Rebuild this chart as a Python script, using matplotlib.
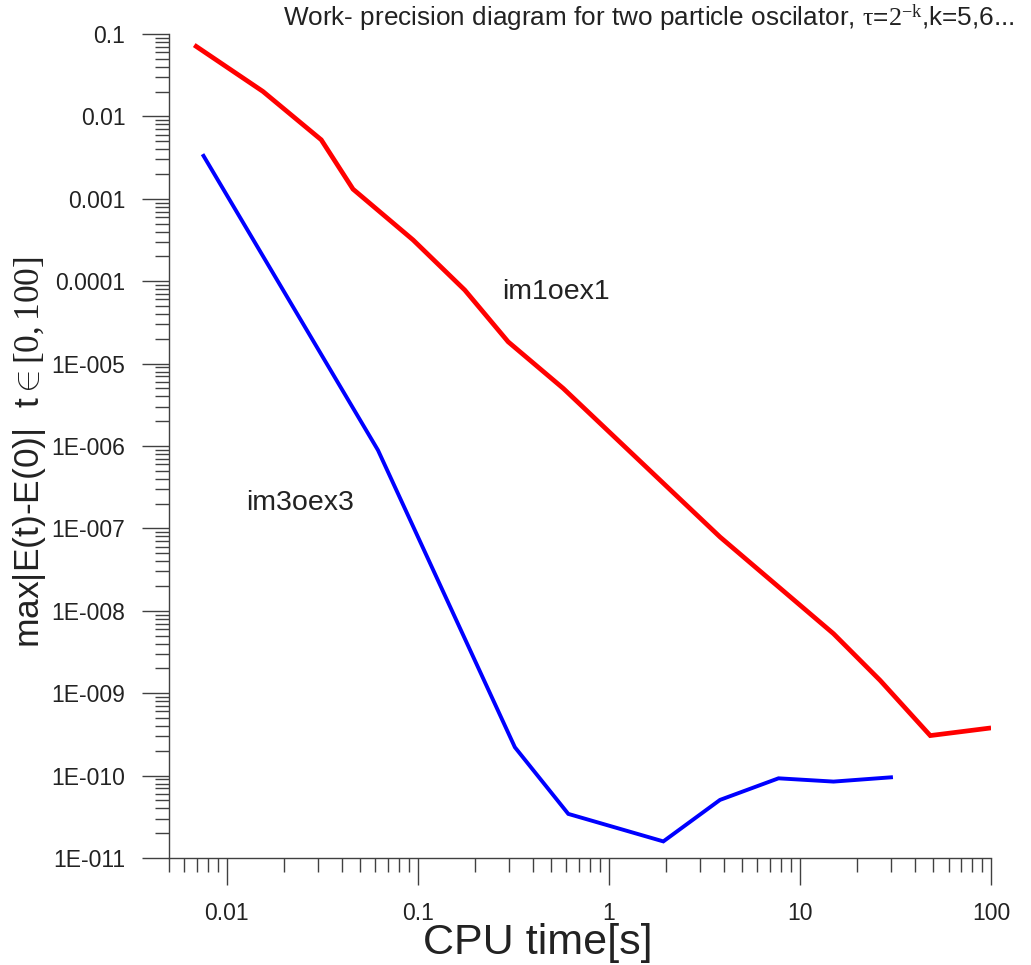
import matplotlib
matplotlib.use('Agg')
import matplotlib.pyplot as plt
from matplotlib.ticker import FixedLocator, NullFormatter, LogLocator

# 数据：CPU 时间与能量误差
im1_time = [0.00694, 0.0155, 0.0313, 0.0459, 0.0946, 0.1765, 0.2975, 0.578,
            3.82, 15.0, 26.3, 48.1, 97.3]
im1_err = [0.0707, 0.0201, 0.0052, 0.00131, 3.17e-4, 7.8e-5, 1.84e-5, 5.0e-6,
           7.87e-8, 5.27e-9, 1.43e-9, 3.06e-10, 3.76e-10]

im3_time = [0.00758, 0.062, 0.3226, 0.614, 1.93, 3.82, 7.73, 15.0, 29.97]
im3_err = [3.32e-3, 8.9e-7, 2.21e-10, 3.43e-11, 1.59e-11, 5.07e-11, 9.27e-11,
           8.46e-11, 9.53e-11]

x_ticks = [0.01, 0.1, 1, 10, 100]
x_labels = ['0.01', '0.1', '1', '10', '100']
y_ticks = [1e-1, 1e-2, 1e-3, 1e-4, 1e-5, 1e-6, 1e-7, 1e-8, 1e-9, 1e-10, 1e-11]
y_labels = ['0.1', '0.01', '0.001', '0.0001', '1E-005', '1E-006', '1E-007',
            '1E-008', '1E-009', '1E-010', '1E-011']

plt.rcParams['font.family'] = ['Liberation Sans', 'DejaVu Sans']
plt.rcParams['mathtext.fontset'] = 'custom'
plt.rcParams['mathtext.rm'] = 'Liberation Serif'
plt.rcParams['mathtext.it'] = 'Liberation Serif:italic'

axis_color = '#404040'
text_color = '#222222'

fig = plt.figure(figsize=(10.31, 9.65), dpi=100)
ax = fig.add_axes([169 / 1031, 1 - 858 / 965, 822 / 1031, 824 / 965])

ax.plot(im1_time, im1_err, color='#ff0000', lw=3.4, solid_joinstyle='miter')
ax.plot(im3_time, im3_err, color='#0000ff', lw=2.8, solid_joinstyle='miter')

ax.set_xscale('log')
ax.set_yscale('log')
ax.set_xlim(0.005, 100)
ax.set_ylim(1e-11, 0.1)

ax.spines['top'].set_visible(False)
ax.spines['right'].set_visible(False)
for s in ('left', 'bottom'):
    ax.spines[s].set_color(axis_color)
    ax.spines[s].set_linewidth(1.0)

ax.xaxis.set_major_locator(FixedLocator(x_ticks))
ax.set_xticklabels(x_labels)
ax.yaxis.set_major_locator(FixedLocator(y_ticks))
ax.set_yticklabels(y_labels)
ax.xaxis.set_minor_locator(LogLocator(base=10, subs=range(2, 10), numticks=20))
ax.yaxis.set_minor_locator(LogLocator(base=10, subs=range(2, 10), numticks=20))
ax.xaxis.set_minor_formatter(NullFormatter())
ax.yaxis.set_minor_formatter(NullFormatter())

ax.tick_params(which='major', length=19.5, width=1.0, color=axis_color,
               labelsize=16.5, labelcolor=text_color, pad=12)
ax.tick_params(which='minor', length=10, width=1.0, color=axis_color)

# 曲线标注
ax.text(0.2757, 7.4e-5, 'im1oex1', fontsize=20.5, color=text_color, va='center')
ax.text(0.01273, 2.02e-7, 'im3oex3', fontsize=20.5, color=text_color, va='center')

fig.text(538 / 1031, 1 - 943 / 965, 'CPU time[s]', fontsize=31,
         color=text_color, ha='center', va='center')
fig.text(30 / 1031, 1 - 452 / 965,
         r'max|E(t)-E(0)|  t$\mathrm{\in[0,100]}$',
         fontsize=25.5, color=text_color, ha='center', va='center', rotation=90)
fig.text(283 / 1031, 1 - 18 / 965,
         r'Work- precision diagram for two particle oscilator, '
         r'$\mathrm{\tau}$=$\mathrm{2^{-k}}$,k=5,6...',
         fontsize=18.8, color=text_color, ha='left', va='center')

fig.savefig('out.png', dpi=100, facecolor='white')
plt.close(fig)
